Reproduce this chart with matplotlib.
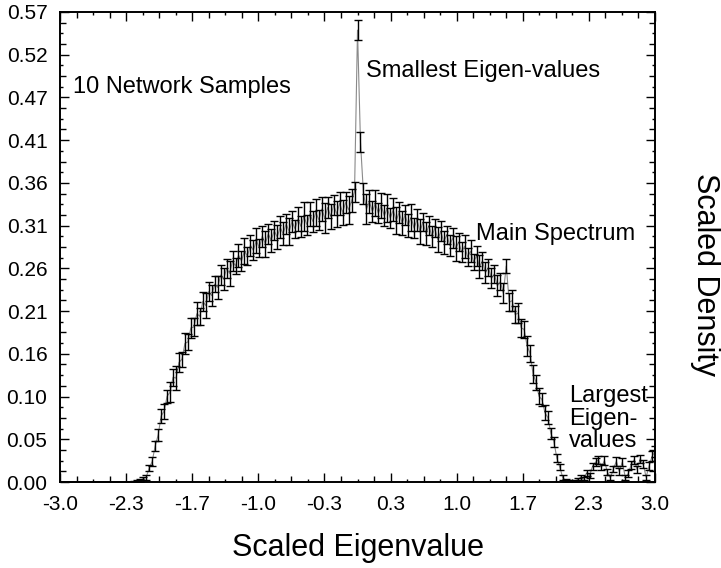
import numpy as np
import matplotlib
matplotlib.use('Agg')
import matplotlib.pyplot as plt
from matplotlib.ticker import FixedLocator, FixedFormatter

plt.rcParams['font.family'] = ['Liberation Sans', 'DejaVu Sans']

# bin centres of the scaled eigenvalue histogram (step 0.03)
eig_x = np.round(np.linspace(-3.0, 3.0, 201), 2)

# density, split by region
dens_left = [0.0] * 25  # -3.00 .. -2.28, empty
dens_main = [  # -2.25 .. 2.10
    0.000, 0.001, 0.002, 0.004, 0.006, 0.017, 0.025, 0.044, 0.057, 0.080,
    0.086, 0.104, 0.109, 0.127, 0.126, 0.145, 0.149, 0.168, 0.170, 0.187,
    0.188, 0.204, 0.201, 0.219, 0.214, 0.231, 0.226, 0.240, 0.236, 0.251,
    0.246, 0.259, 0.253, 0.268, 0.262, 0.275, 0.268, 0.280, 0.274, 0.287,
    0.281, 0.293, 0.284, 0.298, 0.289, 0.301, 0.293, 0.305, 0.297, 0.309,
    0.301, 0.313, 0.304, 0.316, 0.307, 0.319, 0.310, 0.322, 0.312, 0.325,
    0.316, 0.327, 0.318, 0.331, 0.320, 0.333, 0.322, 0.336, 0.325, 0.338,
    0.327, 0.339, 0.330, 0.341, 0.352, 0.548, 0.412, 0.350, 0.331, 0.340,
    0.328, 0.338, 0.326, 0.335, 0.323, 0.332, 0.320, 0.330, 0.317, 0.327,
    0.314, 0.324, 0.311, 0.321, 0.308, 0.318, 0.304, 0.315, 0.301, 0.311,
    0.298, 0.308, 0.294, 0.304, 0.291, 0.300, 0.287, 0.296, 0.283, 0.291,
    0.279, 0.286, 0.273, 0.280, 0.267, 0.274, 0.261, 0.268, 0.254, 0.260,
    0.247, 0.252, 0.238, 0.243, 0.229, 0.262, 0.218, 0.220, 0.203, 0.205,
    0.187, 0.185, 0.165, 0.156, 0.131, 0.121, 0.104, 0.100, 0.084, 0.078,
    0.059, 0.049, 0.029, 0.018, 0.005, 0.002,
]
dens_tail = [  # 2.13 .. 3.00, largest eigenvalues
    0.001, 0.000, 0.001, 0.003, 0.006, 0.004, 0.011, 0.008, 0.019, 0.024,
    0.027, 0.018, 0.026, 0.012, 0.005, 0.016, 0.025, 0.013, 0.024, 0.006,
    0.010, 0.021, 0.027, 0.015, 0.028, 0.022, 0.006, 0.019, 0.031, 0.037,
]

err_left = [0.0] * 25
err_main = [
    0.001, 0.001, 0.002, 0.002, 0.003, 0.004, 0.005, 0.006, 0.007, 0.008,
    0.009, 0.008, 0.012, 0.010, 0.015, 0.011, 0.009, 0.013, 0.010, 0.012,
    0.011, 0.014, 0.010, 0.012, 0.015, 0.011, 0.013, 0.010, 0.014, 0.012,
    0.013, 0.011, 0.015, 0.012, 0.010, 0.014, 0.012, 0.016, 0.011, 0.013,
    0.012, 0.015, 0.011, 0.013, 0.016, 0.012, 0.014, 0.011, 0.015, 0.013,
    0.014, 0.012, 0.016, 0.013, 0.011, 0.015, 0.013, 0.017, 0.012, 0.014,
    0.013, 0.016, 0.012, 0.015, 0.018, 0.013, 0.015, 0.012, 0.016, 0.014,
    0.015, 0.013, 0.017, 0.014, 0.012, 0.012, 0.012, 0.013, 0.018, 0.014,
    0.013, 0.016, 0.012, 0.015, 0.013, 0.017, 0.012, 0.014, 0.016, 0.013,
    0.015, 0.012, 0.014, 0.016, 0.012, 0.013, 0.015, 0.011, 0.014, 0.012,
    0.013, 0.011, 0.015, 0.012, 0.014, 0.011, 0.013, 0.012, 0.015, 0.011,
    0.012, 0.014, 0.011, 0.013, 0.010, 0.012, 0.014, 0.011, 0.013, 0.010,
    0.012, 0.011, 0.013, 0.010, 0.012, 0.008, 0.011, 0.013, 0.010, 0.012,
    0.011, 0.010, 0.012, 0.010, 0.011, 0.009, 0.010, 0.008, 0.009, 0.008,
    0.007, 0.006, 0.005, 0.004, 0.003, 0.002,
]
err_tail = [
    0.001, 0.001, 0.001, 0.002, 0.003, 0.002, 0.004, 0.003, 0.004, 0.005,
    0.005, 0.004, 0.005, 0.004, 0.003, 0.004, 0.005, 0.004, 0.005, 0.003,
    0.004, 0.005, 0.005, 0.004, 0.005, 0.005, 0.003, 0.005, 0.006, 0.007,
]

density = np.concatenate([dens_left, dens_main, dens_tail])
errors = np.concatenate([err_left, err_main, err_tail])

x_ticks = np.linspace(-3.0, 3.0, 10)
x_labels = ['-3.0', '-2.3', '-1.7', '-1.0', '-0.3', '0.3', '1.0', '1.7', '2.3', '3.0']
y_max = 0.57
y_ticks = np.linspace(0.0, y_max, 12)
y_labels = ['0.00', '0.05', '0.10', '0.16', '0.21', '0.26', '0.31', '0.36',
            '0.41', '0.47', '0.52', '0.57']

fig = plt.figure(figsize=(7.21, 5.68), dpi=100)
ax = fig.add_axes([0.0832, 0.1514, 0.8253, 0.8275])

ax.plot(eig_x, density, color='#8a8a8a', lw=0.8, zorder=2)
ax.errorbar(eig_x, density, yerr=errors, fmt='none', ecolor='black',
            elinewidth=1.0, capsize=2.6, capthick=1.0, zorder=3)

ax.set_xlim(-3.0, 3.0)
ax.set_ylim(0.0, y_max)

ax.xaxis.set_major_locator(FixedLocator(x_ticks))
ax.xaxis.set_major_formatter(FixedFormatter(x_labels))
ax.yaxis.set_major_locator(FixedLocator(y_ticks))
ax.yaxis.set_major_formatter(FixedFormatter(y_labels))
# minor ticks every quarter interval
ax.xaxis.set_minor_locator(FixedLocator(np.linspace(-3.0, 3.0, 37)))
ax.yaxis.set_minor_locator(FixedLocator(np.linspace(0.0, y_max, 45)))

ax.tick_params(which='both', direction='in', top=True, right=True,
               width=1.0, color='black')
ax.tick_params(which='major', length=6.5, pad=9, labelsize=15)
ax.tick_params(which='minor', length=2.0)

# half-interval ticks a bit longer than the quarter ones
for axis in (ax.xaxis, ax.yaxis):
    for i, t in enumerate(axis.get_minor_ticks()):
        if i % 2 == 0:
            t.tick1line.set_markersize(4.0)
            t.tick2line.set_markersize(4.0)

for s in ax.spines.values():
    s.set_linewidth(1.4)

ax.text(-2.87, 0.472, '10 Network Samples', fontsize=17, va='baseline', ha='left')
ax.text(0.09, 0.491, 'Smallest Eigen-values', fontsize=17, va='baseline', ha='left')
ax.text(1.19, 0.294, 'Main Spectrum', fontsize=17, va='baseline', ha='left')
ax.text(2.135, 0.118, 'Largest\nEigen-\nvalues', fontsize=17, va='top',
        ha='left', linespacing=1.05)

fig.text(0.497, 0.035, 'Scaled Eigenvalue', fontsize=22, ha='center', va='center')
fig.text(0.978, 0.516, 'Scaled Density', fontsize=22, ha='center', va='center',
         rotation=270)

fig.savefig('out.png', dpi=100)
